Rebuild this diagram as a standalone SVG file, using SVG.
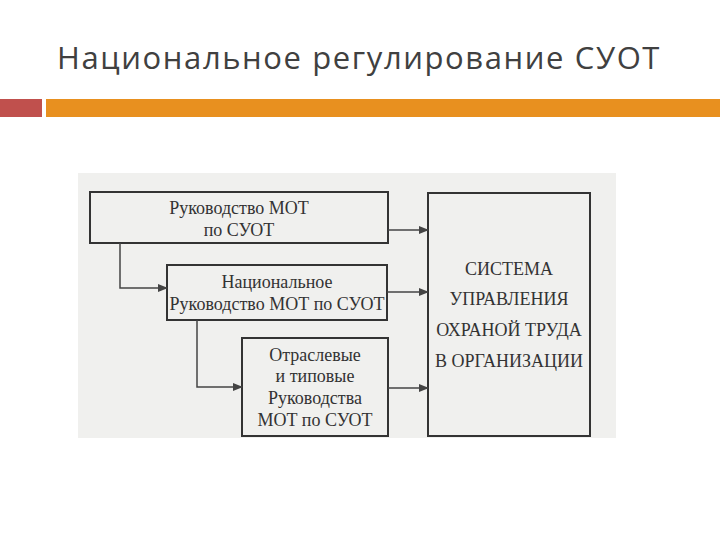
<svg xmlns="http://www.w3.org/2000/svg" width="720" height="540" viewBox="0 0 720 540">
<style>
.b{fill:none;stroke:#333;stroke-width:2}
.t{font-family:"Liberation Serif",serif;font-size:18px;fill:#333;text-anchor:middle}
.c{stroke:#444;stroke-width:1.5;fill:none;marker-end:url(#a)}
</style>
<defs><marker id="a" markerWidth="10" markerHeight="8" refX="9" refY="4" orient="auto" markerUnits="userSpaceOnUse"><path d="M0,0L10,4L0,8z" fill="#444"/></marker></defs>
<rect width="720" height="540" fill="#fff"/>
<text x="57" y="69" font-family="'Open Sans','Noto Sans',sans-serif" font-size="31" letter-spacing="1.6" fill="#404040">Национальное регулирование СУОТ</text>
<rect x="0" y="99" width="42" height="18" fill="#c0504d"/>
<rect x="46" y="99" width="674" height="18" fill="#e8901f"/>
<rect x="78" y="173" width="538" height="265" fill="#f0f0ee"/>
<g id="n1"><rect class="b" x="90" y="192" width="298" height="51"/><text class="t" x="239" y="214">Руководство МОТ</text><text class="t" x="239" y="236">по СУОТ</text></g>
<g id="n2"><rect class="b" x="167" y="265" width="220" height="55"/><text class="t" x="277" y="288">Национальное</text><text class="t" x="277" y="310">Руководство МОТ по СУОТ</text></g>
<g id="n3"><rect class="b" x="242" y="338" width="146" height="98"/><text class="t" x="315" y="361">Отраслевые</text><text class="t" x="315" y="382">и типовые</text><text class="t" x="315" y="404">Руководства</text><text class="t" x="315" y="426">МОТ по СУОТ</text></g>
<g id="n4"><rect class="b" x="428" y="193" width="162" height="243"/><text class="t" x="509" y="275">СИСТЕМА</text><text class="t" x="509" y="305">УПРАВЛЕНИЯ</text><text class="t" x="509" y="336">ОХРАНОЙ ТРУДА</text><text class="t" x="509" y="367">В ОРГАНИЗАЦИИ</text></g>
<g id="connectors">
<path class="c" d="M388,230H428"/>
<path class="c" d="M387,292H428"/>
<path class="c" d="M388,388H428"/>
<path class="c" d="M120,243V288H167"/>
<path class="c" d="M197,320V387H242"/>
</g>
</svg>
